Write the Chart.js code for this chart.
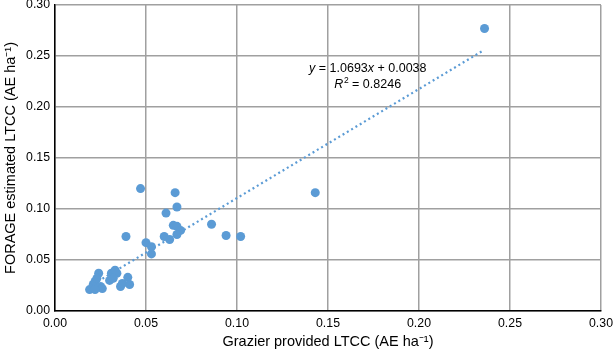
<!DOCTYPE html>
<html>
<head>
<meta charset="utf-8">
<script src="https://cdn.jsdelivr.net/npm/chart.js@4.4.1/dist/chart.umd.min.js"></script>
<style>
  html, body { margin: 0; padding: 0; background: #fff; }
  #wrap { width: 615px; height: 351px; }
</style>
</head>
<body>
<div id="wrap"><canvas id="c"></canvas></div>
<script>
// grazier provided vs FORAGE estimated LTCC (AE ha-1)
const graziorX = [0.019, 0.021, 0.022, 0.024, 0.023, 0.025, 0.026, 0.022,
  0.031, 0.033, 0.034, 0.030, 0.032, 0.036, 0.037, 0.040, 0.041,
  0.039, 0.047, 0.050, 0.053, 0.053,
  0.061, 0.060, 0.066, 0.067, 0.065, 0.067, 0.069, 0.067, 0.063,
  0.086, 0.094, 0.102, 0.143, 0.236];
const forageY = [0.021, 0.026, 0.029, 0.037, 0.032, 0.024, 0.022, 0.021,
  0.037, 0.040, 0.037, 0.030, 0.032, 0.024, 0.027, 0.033, 0.026,
  0.073, 0.120, 0.067, 0.063, 0.056,
  0.096, 0.073, 0.116, 0.102, 0.084, 0.083, 0.079, 0.075, 0.070,
  0.085, 0.074, 0.073, 0.116, 0.277];

// linear fit shown on the chart
const fitSlope = 1.0693;
const fitIntercept = 0.0038;
const fitR2 = 0.8246;
const fitRangeX = [0.019, 0.235];

const axisTicks = [0, 0.05, 0.10, 0.15, 0.20, 0.25, 0.30];

const blue = "#5b9bd5";
const FONT = "'Liberation Sans', Arial, sans-serif";

const scatterPts = graziorX.map((x, i) => ({ x: x, y: forageY[i] }));
const fitPts = fitRangeX.map(x => ({ x: x, y: fitSlope * x + fitIntercept }));

// draws the equation text near the top of the fit line
const eqnLabel = {
  id: "eqnLabel",
  afterDatasetsDraw(chart) {
    const c = chart.ctx;
    const xs = chart.scales.x, ys = chart.scales.y;
    c.save();
    c.fillStyle = "#000";
    c.textBaseline = "alphabetic";
    const parts = [
      ["y", true], [" = " + fitSlope.toFixed(4), false], ["x", true], [" + " + fitIntercept.toFixed(4), false]
    ];
    let px = xs.getPixelForValue(0.1396);
    let py = ys.getPixelForValue(0.2343);
    parts.forEach(p => {
      c.font = (p[1] ? "italic " : "") + "12.5px " + FONT;
      c.fillText(p[0], px, py);
      px += c.measureText(p[0]).width;
    });
    px = xs.getPixelForValue(0.1535);
    py = ys.getPixelForValue(0.2186);
    c.font = "italic 12.5px " + FONT;
    c.fillText("R", px, py);
    px += c.measureText("R").width;
    c.font = "8.5px " + FONT;
    c.fillText("2", px + 0.5, py - 5);
    px += c.measureText("2").width + 0.5;
    c.font = "12.5px " + FONT;
    c.fillText(" = " + fitR2.toFixed(4), px, py);
    c.restore();
  }
};

new Chart(document.getElementById("c"), {
  type: "scatter",
  data: {
    datasets: [
      {
        label: "LTCC",
        data: scatterPts,
        backgroundColor: blue,
        borderColor: blue,
        pointRadius: 4.5,
        pointBorderWidth: 0,
        order: 1
      },
      {
        label: "fit",
        type: "line",
        data: fitPts,
        borderColor: blue,
        borderWidth: 2.2,
        borderDash: [2, 3],
        pointRadius: 0,
        fill: false,
        order: 2
      }
    ]
  },
  options: {
    responsive: true,
    maintainAspectRatio: false,
    animation: false,
    devicePixelRatio: 1,
    layout: { padding: { top: 5, right: 14, left: 0, bottom: 0 } },
    plugins: { legend: { display: false }, tooltip: { enabled: false } },
    scales: {
      x: {
        type: "linear",
        min: 0, max: 0.30,
        afterBuildTicks: s => { s.ticks = axisTicks.map(v => ({ value: v })); },
        afterFit: s => { s.height = 40; s.paddingLeft = 0; s.paddingRight = 0; },
        grid: { color: "#a0a0a0", lineWidth: 1.5, drawTicks: false },
        border: { color: "#000", width: 1.5 },
        ticks: {
          color: "#000", padding: 5,
          font: { family: FONT, size: 12.3 },
          callback: v => v.toFixed(2)
        },
        title: {
          display: true, text: "Grazier provided LTCC (AE ha⁻¹)",
          color: "#000", font: { family: FONT, size: 14.5 }, padding: { top: 1, bottom: 0 }
        }
      },
      y: {
        type: "linear",
        min: 0, max: 0.30,
        afterBuildTicks: s => { s.ticks = axisTicks.map(v => ({ value: v })); },
        afterFit: s => { s.width = 55; s.paddingTop = 0; s.paddingBottom = 0; },
        grid: { color: "#a0a0a0", lineWidth: 1.5, drawTicks: false },
        border: { color: "#000", width: 1.5 },
        ticks: {
          color: "#000", padding: 5,
          font: { family: FONT, size: 12.3 },
          callback: v => v.toFixed(2)
        },
        title: {
          display: true, text: "FORAGE estimated LTCC (AE ha⁻¹)",
          color: "#000", font: { family: FONT, size: 14.5 }, padding: { top: 2, bottom: 2 }
        }
      }
    }
  },
  plugins: [eqnLabel]
});
</script>
</body>
</html>
